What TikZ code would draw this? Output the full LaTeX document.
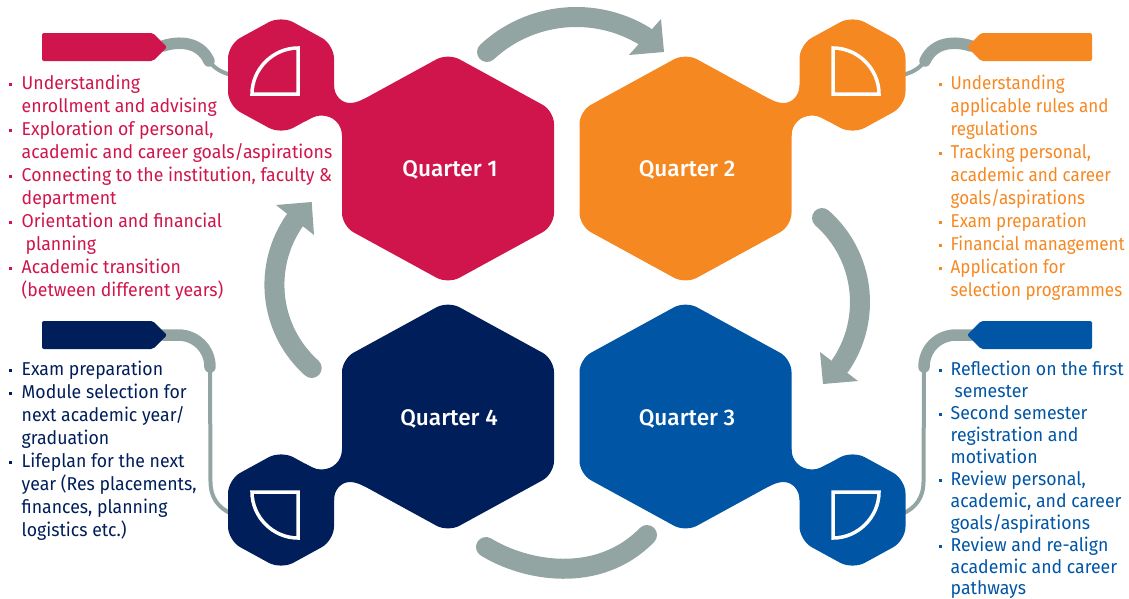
\documentclass[tikz,border=0pt]{standalone}
\usepackage{fontspec}
\setmainfont{Fira Sans}[BoldFont=* Medium]
\newfontfamily\listfont{Fira Sans}[FakeStretch=0.95]
\newfontfamily\narrowlistfont{Fira Sans}[FakeStretch=0.915]
\definecolor{qred}{HTML}{D0154C}
\definecolor{qorange}{HTML}{F68822}
\definecolor{qblue}{HTML}{0055A5}
\definecolor{qnavy}{HTML}{001E5A}
\definecolor{qgrey}{HTML}{93A5A3}
\tikzset{
  bigline/.style={draw=qgrey,line width=20pt,line cap=round},
  thickline/.style={draw=qgrey,line width=11.5pt,line cap=round},
  thinline/.style={draw=qgrey,line width=4pt},
  headfill/.style={fill=qgrey},
  icon/.style={draw=white,line width=3.5pt,miter limit=10},
  quarter/.style={text=white,font=\fontsize{22.6}{28}\selectfont\bfseries,inner sep=0pt},
  listline/.style={anchor=base west,inner sep=0pt,font=\listfont\fontsize{18.6}{23}\selectfont},
  narrowline/.style={listline,font=\narrowlistfont\fontsize{18.6}{23}\selectfont},
  dotmark/.style={fill,inner sep=0pt,minimum size=3pt,shape=rectangle},
}
% hexagon pair with fillets, drawn for Quarter 1 and mirrored by the caller
\newcommand{\blob}[1]{%
  \fill[#1,rounded corners=13pt] (448,53)--(554,111)--(554,226)--(448,284)--(342,226)--(342,111)--cycle;
  \fill[#1,rounded corners=14pt] (281,15.5)--(334,44.5)--(334,105.5)--(281,134.5)--(228,105.5)--(228,44.5)--cycle;
  \fill[#1] (334,85) .. controls (334,95) and (341,103) .. (350,103) .. controls (355,103) and (360,101) .. (365,98.4)
     -- (380,130) -- (342,136) .. controls (342,124) and (333,115.5) .. (321,115.5)
     .. controls (315,115.5) and (310,119) .. (305,121.4) -- (320,100) -- cycle;
}
\newcommand{\tagshape}[1]{%
  \fill[#1,rounded corners=2pt] (42,33)--(153,33)--(167,47)--(153,61)--(42,61)--cycle;
}
\newcommand{\tagshapelow}[1]{%
  \fill[#1,rounded corners=2pt] (42,321)--(153,321)--(167,335)--(153,349)--(42,349)--cycle;
}
\newcommand{\li}[4]{\node[listline] (#1) at (#2,#3) {#4};}
\newcommand{\lin}[4]{\node[narrowline] (#1) at (#2,#3) {#4};}
\newcommand{\dm}[3]{\node[dotmark] (#1) at (#2,#3) {};}
\begin{document}
\begin{tikzpicture}[x=1pt,y=-1pt]
\useasboundingbox (0,0) rectangle (1129,598);
% connectors behind blobs
\coordinate (t1) at (163,46);
\coordinate (k1) at (209,61);
\coordinate (h1) at (232,75);
\draw[thickline] (t1) .. controls (178,41) and (200,41) .. (k1);
\draw[thinline] (k1) .. controls (214,68) and (222,73) .. (h1);
\coordinate (t2) at (971,46);
\coordinate (k2) at (925,61);
\coordinate (h2) at (902,75);
\draw[thickline] (t2) .. controls (956,41) and (934,41) .. (k2);
\draw[thinline] (k2) .. controls (920,68) and (912,73) .. (h2);
\coordinate (t4) at (163,335);
\coordinate (k4) at (210,367);
\coordinate (h4) at (232,514);
\draw[thickline] (t4) -- (178,335) .. controls (196,335) and (210,349) .. (k4);
\draw[thinline] (k4) -- (210.5,482) .. controls (210.5,497) and (218,508) .. (h4);
\coordinate (t3) at (971,335);
\coordinate (k3) at (924,367);
\coordinate (h3) at (902,514);
\draw[thickline] (t3) -- (956,335) .. controls (938,335) and (924,349) .. (k3);
\draw[thinline] (k3) -- (923.5,482) .. controls (923.5,497) and (916,508) .. (h3);
% hexagons
\blob{qred}
\begin{scope}[shift={(1133.5,0)},xscale=-1]\blob{qorange}\end{scope}
\begin{scope}[shift={(1133.5,585)},xscale=-1,yscale=-1]\blob{qblue}\end{scope}
\begin{scope}[shift={(0,585)},yscale=-1]\blob{qnavy}\end{scope}
% tags
\tagshape{qred}
\tagshapelow{qnavy}
\begin{scope}[shift={(1134,0)},xscale=-1]\tagshape{qorange}\tagshapelow{qblue}\end{scope}
% icons
\draw[icon] (298,94) -- (252,94) .. controls (252,69) and (273,48) .. (298,48) -- cycle;
\draw[icon] (833,94) -- (879,94) .. controls (879,69) and (858,48) .. (833,48) -- cycle;
\draw[icon] (298,492) -- (252,492) .. controls (252,517) and (273,538) .. (298,538) -- cycle;
\draw[icon] (833,492) -- (879,492) .. controls (879,517) and (858,538) .. (833,538) -- cycle;
% cycle arrows
\draw[bigline] (487,52) .. controls (530,12) and (595,5.5) .. (645,36.5);
\fill[headfill] (661,19) -- (664,52) -- (629,55) -- cycle;
\draw[bigline] (822,218) .. controls (864.7,255.6) and (872.4,319.3) .. (840,366);
\fill[headfill] (820,352) -- (823,384) -- (858,381) -- cycle;
\draw[bigline] (486,547) .. controls (525,571) and (598,585) .. (647,535);
\draw[bigline] (311.7,368) .. controls (269.2,329.9) and (262.2,266.6) .. (295,220);
\fill[headfill] (276,205) -- (311.7,202) -- (314,235) -- cycle;
% labels
\node[quarter] (Q1) at (450,170) {Quarter 1};
\node[quarter] (Q2) at (687,170) {Quarter 2};
\node[quarter] (Q3) at (687,419) {Quarter 3};
\node[quarter] (Q4) at (449,419) {Quarter 4};
% Quarter 1 list
\begin{scope}[qred,every node/.append style={text=qred}]
\dm{b11}{10.5}{84}\li{a1}{21.5}{89}{Understanding}
\li{a2}{21.5}{112}{enrollment and advising}
\dm{b12}{10.5}{130}\li{a3}{21.5}{135}{Exploration of personal,}
\li{a4}{21.5}{158}{academic and career goals/aspirations}
\dm{b13}{10.5}{176}\li{a5}{21.5}{181}{Connecting to the institution, faculty \&}
\li{a6}{21.5}{204}{department}
\dm{b14}{10.5}{222}\li{a7}{21.5}{227}{Orientation and financial}
\li{a8}{25.5}{250}{planning}
\dm{b15}{10.5}{268}\li{a9}{21.5}{273}{Academic transition}
\li{a10}{21.5}{296}{(between different years)}
\end{scope}
% Quarter 2 list
\begin{scope}[qorange,every node/.append style={text=qorange}]
\dm{b21}{940}{84}\lin{c1}{950.5}{89}{Understanding}
\lin{c2}{950.5}{112}{applicable rules and}
\lin{c3}{950.5}{135}{regulations}
\dm{b22}{940}{153}\lin{c4}{950.5}{158}{Tracking personal,}
\lin{c5}{950.5}{181}{academic and career}
\lin{c6}{950.5}{204}{goals/aspirations}
\dm{b23}{940}{222}\lin{c7}{950.5}{227}{Exam preparation}
\dm{b24}{940}{245}\lin{c8}{950.5}{250}{Financial management}
\dm{b25}{940}{268}\lin{c9}{950.5}{273}{Application for}
\lin{c10}{950.5}{296}{selection programmes}
\end{scope}
% Quarter 3 list
\begin{scope}[qblue,every node/.append style={text=qblue}]
\dm{b31}{940}{370}\li{d1}{950.5}{375}{Reflection on the first}
\li{d2}{954.5}{397}{semester}
\dm{b32}{940}{414}\li{d3}{950.5}{419}{Second semester}
\li{d4}{950.5}{441}{registration and}
\li{d5}{950.5}{463}{motivation}
\dm{b33}{940}{480}\li{d6}{950.5}{485}{Review personal,}
\li{d7}{950.5}{507}{academic, and career}
\li{d8}{950.5}{529}{goals/aspirations}
\dm{b34}{940}{546}\li{d9}{950.5}{551}{Review and re-align}
\li{d10}{950.5}{573}{academic and career}
\li{d11}{950.5}{594}{pathways}
\end{scope}
% Quarter 4 list
\begin{scope}[qnavy,every node/.append style={text=qnavy}]
\dm{b41}{10.5}{370}\li{e1}{21.5}{375.5}{Exam preparation}
\dm{b42}{10.5}{393}\li{e2}{21.5}{398.5}{Module selection for}
\li{e3}{21.5}{421.5}{next academic year/}
\li{e4}{21.5}{444.5}{graduation}
\dm{b43}{10.5}{462}\li{e5}{21.5}{467.5}{Lifeplan for the next}
\li{e6}{21.5}{490.5}{year (Res placements,}
\li{e7}{21.5}{513.5}{finances, planning}
\li{e8}{21.5}{536.5}{logistics etc.)}
\end{scope}
\end{tikzpicture}
\end{document}
